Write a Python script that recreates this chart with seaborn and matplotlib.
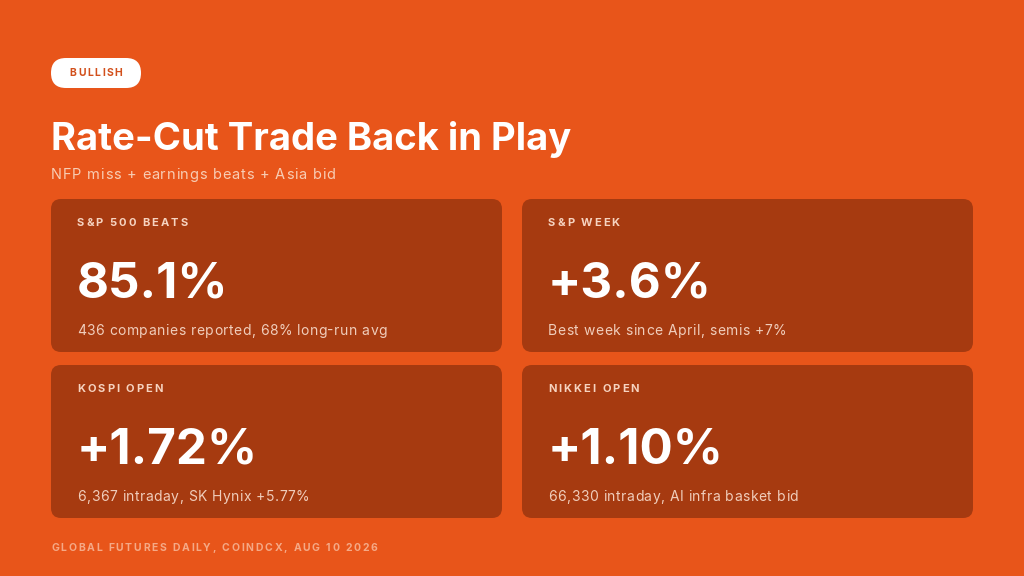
import matplotlib
matplotlib.use("Agg")
import matplotlib.pyplot as plt
from matplotlib.patches import FancyBboxPatch
import seaborn as sns

# card content
card_labels = ["S&P 500 BEATS", "S&P WEEK", "KOSPI OPEN", "NIKKEI OPEN"]
card_values = ["85.1%", "+3.6%", "+1.72%", "+1.10%"]
card_notes = [
    "436 companies reported, 68% long-run avg",
    "Best week since April, semis +7%",
    "6,367 intraday, SK Hynix +5.77%",
    "66,330 intraday, AI infra basket bid",
]
badge = "BULLISH"
title = "Rate-Cut Trade Back in Play"
subtitle = "NFP miss + earnings beats + Asia bid"
footer = "GLOBAL FUTURES DAILY, COINDCX, AUG 10 2026"

BG = "#E8551A"
CARD = "#A63A10"
LABEL = "#F6D3C0"
NOTE = "#F0CDBB"
FOOT = "#F5A986"

sns.set_theme(style="white")
plt.rcParams["font.family"] = ["Inter", "DejaVu Sans"]

fig = plt.figure(figsize=(10.24, 5.76), dpi=100, facecolor=BG)
ax = fig.add_axes([0, 0, 1, 1])
ax.set_xlim(0, 1024)
ax.set_ylim(576, 0)
ax.axis("off")
ax.set_facecolor(BG)
renderer = fig.canvas.get_renderer()


def text_width(s, **kw):
    t = ax.text(0, 0, s, **kw)
    w = t.get_window_extent(renderer).width
    t.remove()
    return w


def tracked(x, y, s, track, **kw):
    # text with letter spacing (px), drawn char by char
    base = text_width("x", **kw)
    for i, ch in enumerate(s):
        if ch == " ":
            continue
        dx = text_width(s[:i] + "x", **kw) - base if i else 0
        ax.text(x + dx + i * track, y, ch, ha="left", va="baseline", **kw)


def tracked_width(s, track, **kw):
    return text_width(s, **kw) + (len(s) - 1) * track


# badge
ax.add_patch(FancyBboxPatch((51, 58), 90, 30,
                            boxstyle="round,pad=0,rounding_size=15",
                            fc="white", ec="none"))
bkw = dict(fontsize=7.5, fontweight="bold", color="#D2501C")
bw = tracked_width(badge, 1.6, **bkw)
tracked(96 - bw / 2, 76.5, badge, 1.6, **bkw)

ax.text(51, 150, title, ha="left", va="baseline", fontsize=27.5,
        fontweight="bold", color="white")
tracked(51, 179, subtitle, 0.8, fontsize=10.5, color="#F8CDB4")

# 2x2 grid of cards
card_w, card_h = 451, 153
for i, (lab, val, note) in enumerate(zip(card_labels, card_values, card_notes)):
    x0 = 51 + (i % 2) * 471
    y0 = 199 + (i // 2) * 166
    ax.add_patch(FancyBboxPatch((x0 + 10, y0 + 10), card_w - 20, card_h - 20,
                                boxstyle="round,pad=10",
                                fc=CARD, ec="none"))
    tracked(x0 + 26, y0 + 27, lab, 2.0, fontsize=8, fontweight="bold",
            color=LABEL)
    ax.text(x0 + 26, y0 + 98, val, ha="left", va="baseline", fontsize=35.5,
            fontweight="bold", color="white")
    tracked(x0 + 26, y0 + 136, note, 0.5, fontsize=10, color=NOTE)

tracked(51, 551, footer, 1.75, fontsize=7.5, fontweight="bold", color=FOOT)

fig.savefig("out.png", dpi=100, facecolor=BG)
